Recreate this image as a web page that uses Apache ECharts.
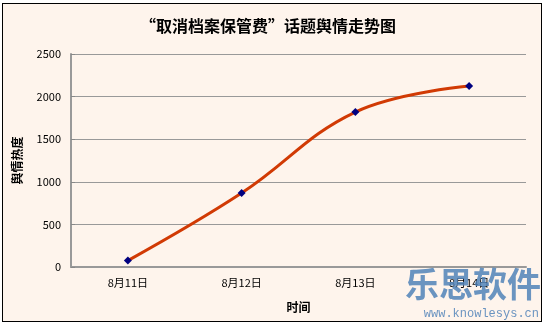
<!DOCTYPE html>
<html><head><meta charset="utf-8">
<script src="https://cdn.jsdelivr.net/npm/echarts@6/dist/echarts.min.js"></script>
<style>
html,body{margin:0;padding:0;background:#fff;}
#wrap{position:absolute;left:2px;top:3px;width:538px;height:317px;border:1px solid #000;background:#FEF4EC;}
#c{width:538px;height:317px;}
</style></head><body>
<div id="wrap"><div id="c"></div></div>
<script>
var categories = ['8月11日', '8月12日', '8月13日', '8月14日'];
var values = [75, 868, 1819, 2124];
var yTicks = [0, 500, 1000, 1500, 2000, 2500];

var chart = echarts.init(document.getElementById('c'));
var font = '"Noto Sans CJK SC", sans-serif';
chart.setOption({
  backgroundColor: '#FEF4EC',
  animation: false,
  title: {
    text: '“取消档案保管费”话题舆情走势图',
    left: 132, top: 9,
    textStyle: {fontFamily: font, fontSize: 16, fontWeight: 'bold', color: '#000'}
  },
  grid: {left: 65, right: 15, top: 50, bottom: 54},
  xAxis: {
    type: 'category', data: categories, boundaryGap: true,
    name: '时间', nameLocation: 'middle', nameGap: 34,
    nameTextStyle: {fontFamily: font, fontSize: 12, fontWeight: 'bold', color: '#000'},
    axisLine: {lineStyle: {color: '#999', width: 2}},
    axisTick: {inside: true, length: 5, lineStyle: {color: '#999', width: 2}},
    axisLabel: {fontFamily: font, fontSize: 11, color: '#000', margin: 10}
  },
  yAxis: {
    type: 'value', min: yTicks[0], max: yTicks[yTicks.length - 1], interval: 500,
    name: '舆情热度', nameLocation: 'middle', nameGap: 48, nameRotate: 90,
    nameTextStyle: {fontFamily: font, fontSize: 12, fontWeight: 'bold', color: '#000'},
    axisLine: {show: true, lineStyle: {color: '#999', width: 2}},
    axisTick: {show: true, inside: true, length: 4, lineStyle: {color: '#888'}},
    axisLabel: {fontFamily: font, fontSize: 11, color: '#000', margin: 10,
      formatter: function (v) { return String(v); }},
    splitLine: {lineStyle: {color: '#999', width: 1}}
  },
  series: [{
    type: 'line', data: values, smooth: 0.4,
    lineStyle: {color: '#D13A04', width: 3},
    symbol: 'diamond', symbolSize: 8,
    itemStyle: {color: '#000080'}
  }],
  graphic: [
    {type: 'text', right: 0, bottom: 20, z: 100,
     style: {text: '乐思软件', fontFamily: font, fontSize: 34, fontWeight: 'bold', fill: 'rgba(80,130,185,0.85)'}},
    {type: 'text', right: 2, bottom: 1, z: 100,
     style: {text: 'www.knowlesys.cn', fontFamily: '"Liberation Mono", monospace', fontSize: 12, fill: 'rgba(80,130,185,0.85)'}}
  ]
});
</script>
</body></html>
